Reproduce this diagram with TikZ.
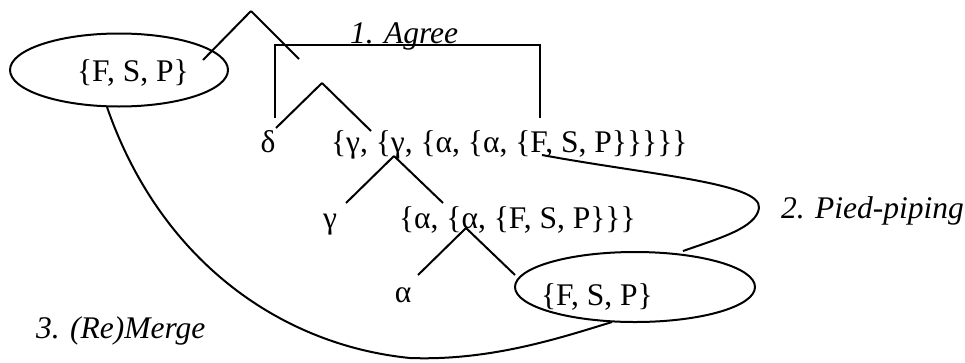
\documentclass[tikz,border=0pt]{standalone}
\usepackage{fontspec}
\setmainfont{Liberation Serif}
\usetikzlibrary{shapes.geometric}

\begin{document}
\begin{tikzpicture}[x=1pt,y=-1pt,line width=2pt,
    every node/.style={font=\fontsize{31.5}{36}\selectfont,inner sep=0pt}]

  \useasboundingbox (0,0) rectangle (965,362);

  % tree labels
  \begin{scope}[every node/.style={anchor=base,font=\fontsize{31.5}{36}\selectfont,inner sep=0pt}]
    \node (topFSP)  at (133,81)  {\{F, S, P\}};
    \node (delta)   at (268,152) {δ};
    \node[anchor=base west] (gammaSet) at (330,152) {\{γ, \{γ, \{α, \{α, \{F, S, P\}\}\}\}\}};
    \node (gamma)   at (330,228) {γ};
    \node[anchor=base west] (alphaSet) at (398,228) {\{α, \{α, \{F, S, P\}\}\}};
    \node (alpha)   at (403,302) {α};
    \node (lowFSP)  at (597,305) {\{F, S, P\}};
  \end{scope}

  % circled copies
  \node[ellipse,draw,minimum width=218,minimum height=73] (topEll) at (119,70) {};
  \node[ellipse,draw,minimum width=240,minimum height=70] (lowEll) at (635,287) {};

  % branch points
  \coordinate (root)  at (251,11);
  \coordinate (rootL) at (203,60);
  \coordinate (rootR) at (299,59);
  \coordinate (n2)    at (322,83);
  \coordinate (n2L)   at (276,128);
  \coordinate (n2R)   at (371,131);
  \coordinate (n3)    at (394,156);
  \coordinate (n3L)   at (346,203);
  \coordinate (n3R)   at (443,203);
  \coordinate (n4)    at (466,228);
  \coordinate (n4L)   at (418,275);
  \coordinate (n4R)   at (515,275);

  \path[draw] (root) edge (rootL) edge (rootR);
  \path[draw] (n2) edge (n2L) edge (n2R);
  \path[draw] (n3) edge (n3L) edge (n3R);
  \path[draw] (n4) edge (n4L) edge (n4R);

  % agree bracket
  \coordinate (agreeA) at (275,118);
  \coordinate (agreeB) at (540,118);
  \draw (agreeA) -- ++(0,-73) -| (agreeB);
  \node[anchor=base west,font=\fontsize{31.5}{36}\selectfont\itshape] (agree) at (349,43) {1. Agree};

  % pied-piping
  \coordinate (pipeA) at (542,155);
  \coordinate (pipeB) at (683,251);
  \draw (pipeA) .. controls (650,175) and (762,183) .. (759,208)
                .. controls (756,228) and (720,238) .. (pipeB);
  \node[anchor=base west,font=\fontsize{31.5}{36}\selectfont\itshape] (pied) at (780,218) {2. Pied-piping};

  % remerge
  \coordinate (mergeA) at (107,107);
  \coordinate (mergeB) at (612,322);
  \draw (mergeA) .. controls (160,260) and (280,345) .. (410,358)
                 .. controls (490,361) and (560,338) .. (mergeB);
  \node[anchor=base west,font=\fontsize{31.5}{36}\selectfont\itshape] (remerge) at (35,338) {3. (Re)Merge};

\end{tikzpicture}
\end{document}
